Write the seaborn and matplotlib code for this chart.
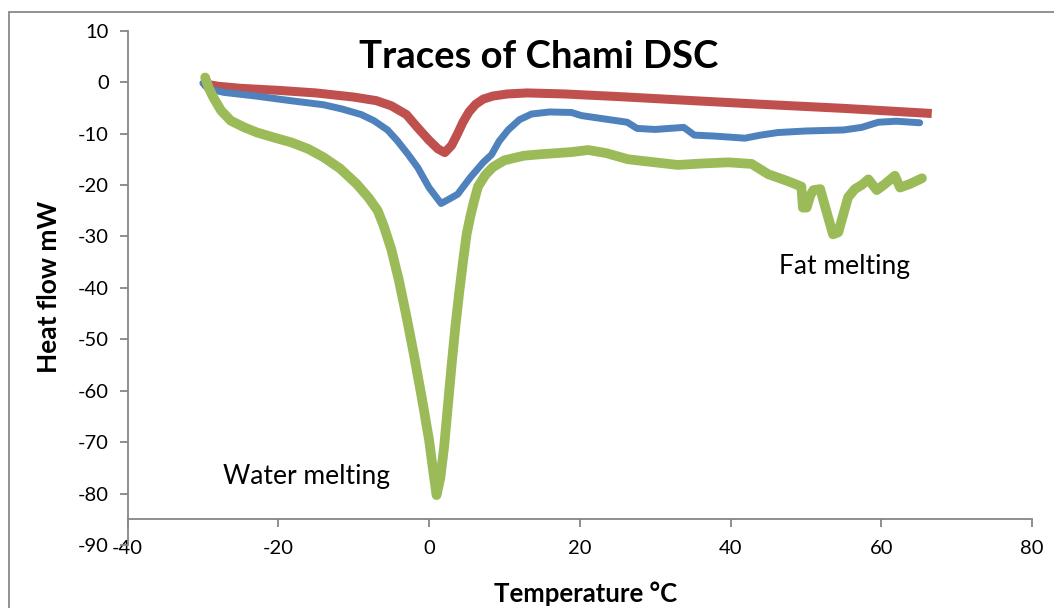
import matplotlib
matplotlib.use("Agg")
import matplotlib.pyplot as plt
import seaborn as sns
from matplotlib.patches import Rectangle

# ---- data ----
x_ticks = [-40, -20, 0, 20, 40, 60, 80]
y_ticks = [-90, -80, -70, -60, -50, -40, -30, -20, -10, 0, 10]

red_x = [-30, -28, -25, -20, -15, -10, -7, -5, -3, -1.6, 0, 1.2, 2.1, 3.0, 3.8,
         4.5, 5.3, 6.2, 7.2, 8.5, 10.4, 13, 18, 25, 35, 44, 55, 66.7]
red_y = [-0.3, -0.8, -1.2, -1.6, -2.1, -2.9, -3.6, -4.6, -6.3, -8.7, -11.3, -13.0,
         -13.7, -12.3, -10.0, -7.8, -5.8, -4.3, -3.3, -2.7, -2.3, -2.1, -2.3, -2.8,
         -3.6, -4.3, -5.1, -6.1]

blue_x = [-30, -29.3, -27.2, -23, -18.4, -14, -11.6, -9, -7.3, -5.5, -4.2, -2.8,
          -1.5, 0, 1.6, 2.6, 3.8, 5.5, 7.2, 8.3, 9.3, 10.5, 12, 13.6, 16, 18.9,
          20.2, 23, 26.3, 27.6, 30, 33.8, 35.2, 38, 41.9, 44, 46.3, 50, 55, 57.4,
          59.6, 62, 65.1]
blue_y = [-0.2, -1.3, -2.0, -2.7, -3.6, -4.4, -5.2, -6.3, -7.5, -9.3, -11.4, -14.0,
          -16.6, -20.5, -23.6, -22.8, -21.8, -18.5, -15.6, -14.1, -11.5, -9.3, -7.3,
          -6.2, -5.8, -5.9, -6.5, -7.1, -7.8, -9.0, -9.2, -8.8, -10.3, -10.5, -10.9,
          -10.3, -9.8, -9.5, -9.3, -8.8, -7.8, -7.6, -7.9]

green_x = [-29.7, -29.2, -28.6, -27.6, -26.3, -24.5, -22.8, -20.5, -18.3, -16, -14,
           -11.8, -9.6, -8, -6.8, -6, -5, -4, -3, -2, -1, 0, 0.5, 1.0,
           1.5, 2.0, 2.5, 3.0, 3.5, 4.0, 4.5, 5.0, 5.5, 6.0, 6.5, 7.5, 8.5, 10,
           12.6, 15, 18.9, 21.1, 23.5, 26.4, 30, 33, 36.5, 39.7, 42.8, 45, 47.5,
           49.4, 49.6, 50.1, 50.6, 51.0, 51.9, 52.8, 53.6, 54.3, 55.6, 56.5, 57.4,
           58.3, 59.4, 60.5, 61.8, 62.5, 63.8, 65.4]
green_y = [0.9, -1.2, -3.0, -5.5, -7.5, -8.8, -9.8, -10.8, -11.7, -13.0, -14.6,
           -16.8, -19.8, -22.5, -25.0, -28.0, -32.5, -38.5, -45.5, -53.0, -61.0,
           -69.5, -75.0, -80.3, -77.0, -71.0, -63.0, -55.0, -47.5, -41.0, -35.0,
           -29.5, -26.0, -23.0, -20.3, -18.0, -16.5, -15.2, -14.3, -14.0, -13.6,
           -13.2, -13.8, -15.0, -15.6, -16.1, -15.8, -15.6, -15.9, -17.9, -19.2,
           -20.3, -24.4, -24.4, -22.0, -21.0, -20.8, -25.5, -29.6, -29.2, -22.4,
           -20.8, -20.0, -18.9, -21.0, -19.8, -18.2, -20.5, -19.8, -18.7]

title = "Traces of Chami DSC"
x_label = "Temperature °C"
y_label = "Heat flow mW"
note_water = "Water melting"
note_fat = "Fat melting"

# ---- styling ----
sns.set_theme(style="white")
plt.rcParams["font.family"] = ["Lato", "DejaVu Sans"]

W, H = 1054, 608
fig = plt.figure(figsize=(W / 100, H / 100), dpi=100)
ax = fig.add_axes([127.5 / W, 1 - 545 / H, (1032 - 127.5) / W, (545 - 30.7) / H])

sns.lineplot(x=red_x, y=red_y, ax=ax, color="#C0504D", linewidth=6.5,
             sort=False, estimator=None, solid_joinstyle="round", solid_capstyle="butt")
sns.lineplot(x=blue_x, y=blue_y, ax=ax, color="#4F81BD", linewidth=5,
             sort=False, estimator=None, solid_joinstyle="round", solid_capstyle="round")
sns.lineplot(x=green_x, y=green_y, ax=ax, color="#9BBB59", linewidth=7,
             sort=False, estimator=None, solid_joinstyle="round", solid_capstyle="round")

ax.set_xlim(-40, 80)
ax.set_ylim(-90, 10)
ax.set_xticks(x_ticks)
ax.set_yticks(y_ticks)
ax.set_xticklabels([str(v) for v in x_ticks])
ax.set_yticklabels([str(v) for v in y_ticks])

spine_col = "#868686"
for s in ["top", "right"]:
    ax.spines[s].set_visible(False)
for s in ["left", "bottom"]:
    ax.spines[s].set_color(spine_col)
    ax.spines[s].set_linewidth(1.3)
ax.spines["bottom"].set_position(("data", -85))

ax.tick_params(axis="both", which="major", direction="out", length=5.5, width=1.3,
               color=spine_col, labelsize=14.5, labelcolor="black",
               bottom=True, left=True)
ax.tick_params(axis="y", pad=8)
ax.tick_params(axis="x", pad=9.5)

ax.set_xlabel(x_label, fontsize=18.5, fontweight="bold", color="black")
ax.xaxis.set_label_coords(586 / W, 1 - 601.7 / H, transform=fig.transFigure)
ax.xaxis.label.set_verticalalignment("baseline")

ax.set_ylabel(y_label, fontsize=19, fontweight="bold", color="black")
ax.yaxis.set_label_coords(49 / W, 1 - 286.5 / H, transform=fig.transFigure)
ax.yaxis.label.set_verticalalignment("center")

fig.text(538.5 / W, 1 - 68.3 / H, title, ha="center", va="baseline",
         fontsize=27.5, fontweight="bold", color="black")

ax.text(-27.3, -78.1, note_water, ha="left", va="baseline", fontsize=19, color="black")
ax.text(46.5, -37.3, note_fat, ha="left", va="baseline", fontsize=19, color="black")

# outer chart-area border (cropped at right and bottom in the reference)
fig.add_artist(Rectangle((9 / W, -0.1), 1.2, 1 - 12 / H + 0.1,
                         transform=fig.transFigure, fill=False,
                         edgecolor="#898989", linewidth=1.3, clip_on=False))

fig.savefig("out.png", dpi=100)
